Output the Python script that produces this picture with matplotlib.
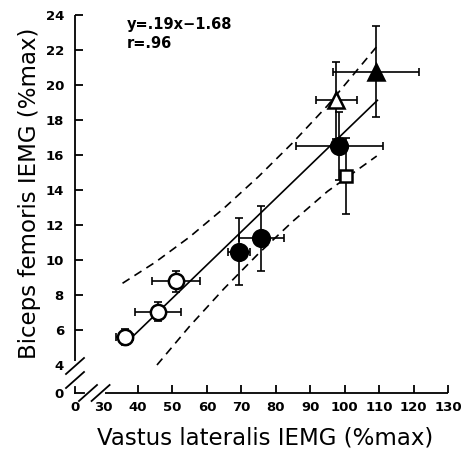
import matplotlib
matplotlib.use("Agg")
import matplotlib.pyplot as plt
import numpy as np

# ---- data ----
vl = [36.1, 45.9, 51.0, 69.3, 75.8, 98.4, 100.3, 97.6, 109.1]
vl_err = [2.5, 6.7, 7.0, 3.2, 6.5, 12.6, 0.0, 6.0, 12.5]
bf = [5.6, 7.05, 8.8, 10.48, 11.24, 16.5, 14.8, 19.14, 20.76]
bf_err = [0.45, 0.55, 0.6, 1.9, 1.84, 1.95, 2.2, 2.2, 2.6]
markers = ['o', 'o', 'o', 'o', 'o', 'o', 's', '^', '^']
filled = [False, False, False, True, True, True, False, False, True]
msizes = [11, 11, 11, 12, 12, 12, 9, 11, 11]

slope, intercept = 0.19, -1.68
fit_x = [36.0, 109.5]

upper_x = [35.5, 45, 55, 65, 75, 85, 95, 109.2]
upper_y = [8.67, 9.87, 11.32, 12.97, 14.77, 16.72, 18.82, 22.17]
lower_x = [45.5, 55, 65, 75, 85, 95, 109.3]
lower_y = [4.0, 6.22, 8.37, 10.37, 12.22, 13.92, 15.94]

xticks = [40, 50, 60, 70, 80, 90, 100, 110, 120, 130]
yticks = [6, 8, 10, 12, 14, 16, 18, 20, 22, 24]

eq_lines = ["y=.19x\u22121.68", "r=.96"]
xlabel = "Vastus lateralis IEMG (%max)"
ylabel = "Biceps femoris IEMG (%max)"

# ---- figure ----
W, H, DPI = 463, 455, 100
fig = plt.figure(figsize=(W / DPI, H / DPI), dpi=DPI)
L, R, B, T = 75, 448, 393, 15
ax = fig.add_axes([L / W, 1 - B / H, (R - L) / W, (B - T) / H])
xlo, xhi = 21.7, 130
ylo, yhi = 2.4, 24
ax.set_xlim(xlo, xhi)
ax.set_ylim(ylo, yhi)
for s in ax.spines.values():
    s.set_visible(False)

pxx = (R - L) / (xhi - xlo)   # px per x unit
pxy = (B - T) / (yhi - ylo)   # px per y unit

lw_ax = 1.3
k = 'black'
# axis lines
ax.plot([xlo, xlo], [4.0 + 4 / pxy, yhi], color=k, lw=lw_ax, clip_on=False, solid_capstyle='butt')
ax.plot([30 + 1 / pxx, xhi], [ylo, ylo], color=k, lw=lw_ax, clip_on=False, solid_capstyle='butt')
# corner stubs
ax.plot([xlo, xlo], [ylo, ylo + 6 / pxy], color=k, lw=lw_ax, clip_on=False)
ax.plot([xlo, xlo + 9 / pxx], [ylo, ylo], color=k, lw=lw_ax, clip_on=False)


def slash(cx, cy, dx=9, dy=8):
    ax.plot([cx - dx / pxx, cx + dx / pxx], [cy - dy / pxy, cy + dy / pxy],
            color=k, lw=lw_ax, clip_on=False)


slash(xlo, 4.0 - 1 / pxy)
slash(xlo, ylo + 13 / pxy)
slash(xlo + 13 / pxx, ylo)
slash(30 - 3 / pxx, ylo)

# ticks
ax.tick_params(direction='in', length=6, width=lw_ax, color=k)
ax.set_xticks(xticks)
ax.set_xticklabels([str(v) for v in xticks])
ax.set_yticks(yticks)
ax.set_yticklabels([str(v) for v in yticks])
ax.set_xticks([xlo, 30], minor=True)
ax.set_xticklabels(["0", "30"], minor=True)
ax.set_yticks([ylo, 4], minor=True)
ax.set_yticklabels(["0", "4"], minor=True)
ax.tick_params(which='minor', length=0)
ax.tick_params(axis='x', which='both', pad=6)
ax.tick_params(axis='y', which='both', pad=8)
for lab in ax.get_xticklabels(which='both') + ax.get_yticklabels(which='both'):
    lab.set_fontfamily('DejaVu Sans')
    lab.set_fontweight('bold')
    lab.set_fontsize(9.5)

# bands and fit
ax.plot(upper_x, upper_y, color=k, lw=1.2, ls=(0, (5, 3.5)), zorder=2)
ax.plot(lower_x, lower_y, color=k, lw=1.2, ls=(0, (5, 3.5)), zorder=2)
fx = np.array(fit_x)
ax.plot(fx, slope * fx + intercept, color=k, lw=1.2, zorder=2)

# points
for x, xe, y, ye, m, f, ms in zip(vl, vl_err, bf, bf_err, markers, filled, msizes):
    ax.errorbar(x, y, xerr=xe if xe > 0 else None, yerr=ye, fmt='none',
                ecolor=k, elinewidth=1.2, capsize=3, capthick=1.2, zorder=3)
    ax.plot(x, y, marker=m, ms=ms, mfc=k if f else 'white', mec=k, mew=1.8,
            ls='none', zorder=4)

# text
fig.text(127 / W, 1 - 25 / H, eq_lines[0], fontsize=10.5, fontweight='bold',
         family='DejaVu Sans', va='center', ha='left')
fig.text(127 / W, 1 - 44 / H, eq_lines[1], fontsize=10.5, fontweight='bold',
         family='DejaVu Sans', va='center', ha='left')
fig.text(265 / W, 1 - 438 / H, xlabel, fontsize=16.5, family='DejaVu Sans',
         ha='center', va='center')
fig.text(30 / W, 1 - 193 / H, ylabel, fontsize=16.5, family='DejaVu Sans',
         ha='center', va='center', rotation=90)

fig.savefig('out.png', dpi=DPI)
